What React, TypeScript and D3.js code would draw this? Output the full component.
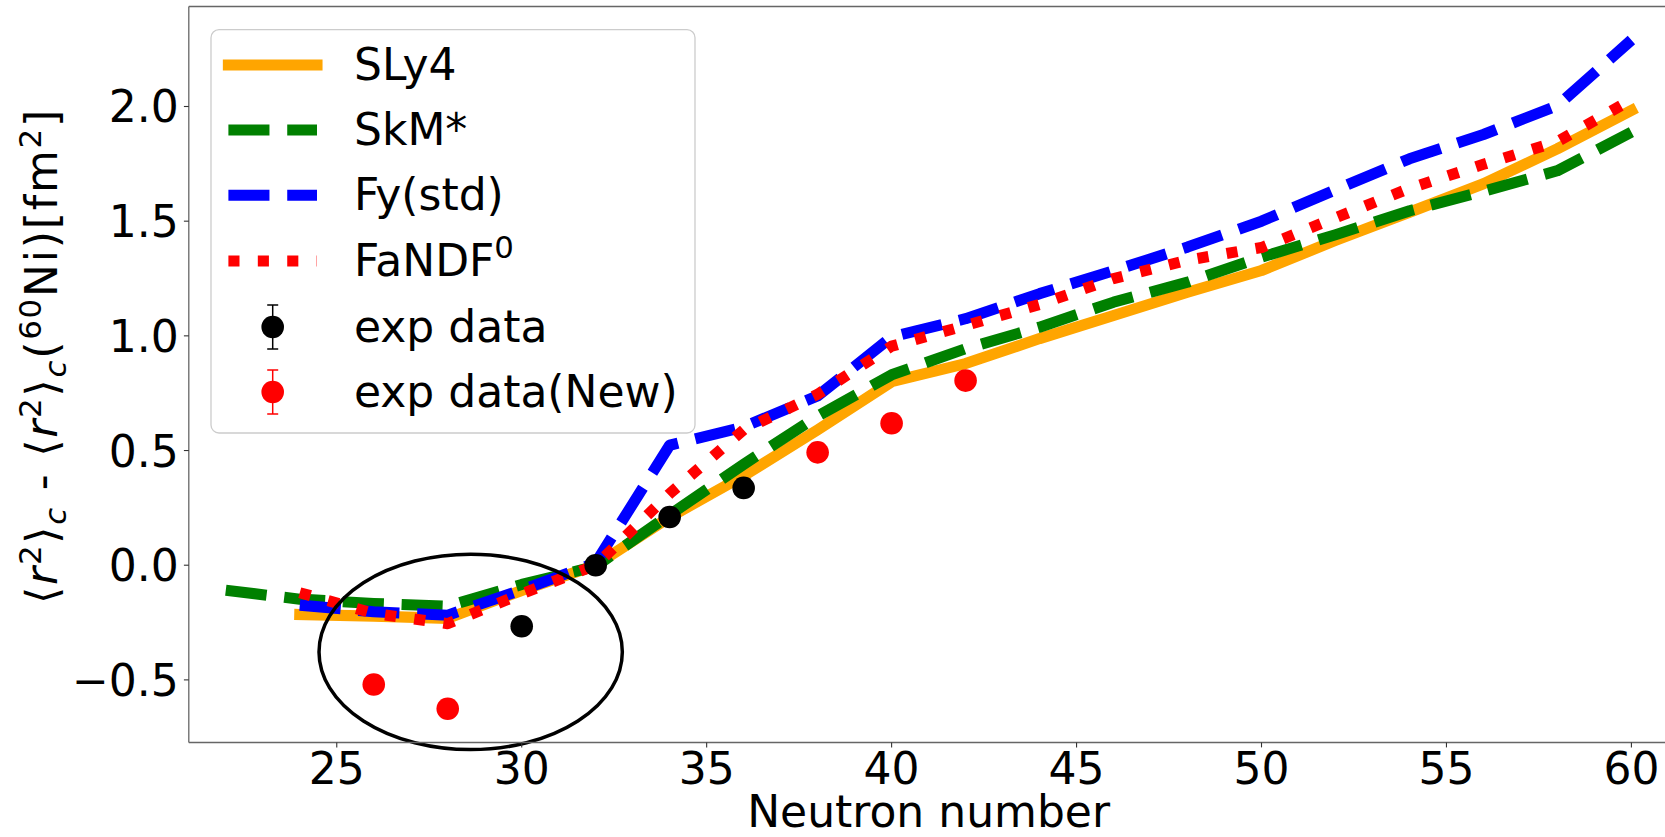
import * as d3 from "d3";

// neutron numbers
const nSkm = [22, 24, 26, 28, 30, 32, 34, 36, 38, 40, 42, 44, 46, 48, 50, 52, 54, 56, 58, 60];
const nCalc = [24, 26, 28, 30, 32, 34, 36, 38, 40, 42, 44, 46, 48, 50, 52, 54, 56, 58, 60];

// model curves
const sly4 = [-0.215, -0.222, -0.232, -0.11, 0.0, 0.21, 0.39, 0.59, 0.8, 0.879, 0.988, 1.089, 1.19, 1.285, 1.416, 1.539, 1.663, 1.816, 1.983];
const skm = [-0.109, -0.148, -0.167, -0.179, -0.084, -0.005, 0.22, 0.44, 0.65, 0.83, 0.944, 1.038, 1.147, 1.234, 1.343, 1.441, 1.545, 1.63, 1.72, 1.888];
const fyStd = [-0.174, -0.203, -0.218, -0.108, 0.01, 0.523, 0.603, 0.738, 0.995, 1.075, 1.184, 1.284, 1.387, 1.5, 1.637, 1.772, 1.878, 2.004, 2.29];
const fandf = [-0.12, -0.21, -0.255, -0.125, 0.0, 0.312, 0.59, 0.745, 0.955, 1.045, 1.137, 1.25, 1.33, 1.385, 1.515, 1.643, 1.748, 1.847, 2.03];

// experiment
const expN = [30, 32, 34, 36];
const expVal = [-0.266, 0.0, 0.21, 0.337];
const expNewN = [26, 28, 38, 40, 42];
const expNewVal = [-0.52, -0.626, 0.492, 0.619, 0.805];

const xTicks = [25, 30, 35, 40, 45, 50, 55, 60];
const yTicks = [-0.5, 0.0, 0.5, 1.0, 1.5, 2.0];

// highlighted region (center N, center value, width, height)
const ellipse = { cx: 28.62, cy: -0.378, w: 8.2, h: 0.852 };

const W = 1665;
const H = 837;
const FONT = "DejaVu Sans, sans-serif";
const FS = 44;
const LW = 11.1;

const series = [
  { name: "SLy4", n: nCalc, v: sly4, color: "#ffa500", dash: "", cap: "square" },
  { name: "SkM*", n: nSkm, v: skm, color: "#008000", dash: `${3.7 * LW},${1.6 * LW}`, cap: "butt" },
  { name: "Fy(std)", n: nCalc, v: fyStd, color: "#0000ff", dash: `${3.7 * LW},${1.6 * LW}`, cap: "butt" },
  { name: "FaNDF", n: nCalc, v: fandf, color: "#ff0000", dash: `${LW},${1.65 * LW}`, cap: "butt" },
];

export default function App() {
  const x = d3.scaleLinear().domain([21, 61]).range([188.8, 1668.4]);
  const y = d3.scaleLinear().domain([-0.773, 2.436]).range([742.5, 6.5]);
  const left = x.range()[0];
  const right = x.range()[1];
  const top = y.range()[1];
  const bottom = y.range()[0];

  const line = d3
    .line<[number, number]>()
    .x((d) => x(d[0]))
    .y((d) => y(d[1]));

  const legendRows = [65, 130, 195.3, 261, 327, 392];
  const hx0 = 228.4;
  const hx1 = 317;
  const hxm = (hx0 + hx1) / 2;
  const tx = 354;
  const ylx = 57;
  const yly = 356;

  return (
    <div style={{ position: "absolute", left: 0, top: 0 }}>
      <svg width={W} height={H} style={{ display: "block", background: "#fff" }} fontFamily={FONT}>
        {/* curves */}
        {series.map((s) => (
          <path
            key={s.name}
            d={line(s.n.map((n, i) => [n, s.v[i]]))!}
            fill="none"
            stroke={s.color}
            strokeWidth={LW}
            strokeDasharray={s.dash || undefined}
            strokeLinecap={s.cap as any}
            strokeLinejoin="round"
          />
        ))}

        {/* experimental points */}
        {expN.map((n, i) => (
          <circle key={"e" + n} cx={x(n)} cy={y(expVal[i])} r={11.3} fill="#000" />
        ))}
        {expNewN.map((n, i) => (
          <circle key={"r" + n} cx={x(n)} cy={y(expNewVal[i])} r={11.3} fill="#ff0000" />
        ))}

        {/* ellipse */}
        <ellipse
          cx={x(ellipse.cx)}
          cy={y(ellipse.cy)}
          rx={(x(ellipse.cx + ellipse.w / 2) - x(ellipse.cx - ellipse.w / 2)) / 2}
          ry={(y(ellipse.cy - ellipse.h / 2) - y(ellipse.cy + ellipse.h / 2)) / 2}
          fill="none"
          stroke="#000"
          strokeWidth={3.5}
        />

        {/* spines */}
        <g stroke="#666" strokeWidth={1.3} fill="none">
          <line x1={left} x2={left} y1={top} y2={bottom} />
          <line x1={left} x2={right} y1={top} y2={top} />
          <line x1={left} x2={right} y1={bottom} y2={bottom} />
          <line x1={right} x2={right} y1={top} y2={bottom} />
        </g>

        {/* x axis */}
        {xTicks.map((t) => (
          <g key={"xt" + t}>
            <line x1={x(t)} x2={x(t)} y1={bottom} y2={bottom + 4.9} stroke="#333" strokeWidth={1.1} />
            <text x={x(t)} y={784} textAnchor="middle" fontSize={FS} fill="#000">
              {t}
            </text>
          </g>
        ))}
        <text x={(left + right) / 2} y={827} textAnchor="middle" fontSize={FS} fill="#000">
          Neutron number
        </text>

        {/* y axis */}
        {yTicks.map((t) => (
          <g key={"yt" + t}>
            <line x1={left - 4.9} x2={left} y1={y(t)} y2={y(t)} stroke="#333" strokeWidth={1.1} />
            <text x={left - 10} y={y(t) + 16} textAnchor="end" fontSize={FS} fill="#000">
              {d3.format(".1f")(t).replace("-", "\u2212")}
            </text>
          </g>
        ))}
        <text
          x={ylx}
          y={yly}
          textAnchor="middle"
          fontSize={FS}
          fill="#000"
          letterSpacing={1.8}
          transform={`rotate(-90, ${ylx}, ${yly})`}
        >
          <tspan>{"\u27e8"}</tspan>
          <tspan fontStyle="italic">r</tspan>
          <tspan fontSize={FS * 0.7} dy={-16}>2</tspan>
          <tspan dy={16}>{"\u27e9"}</tspan>
          <tspan fontStyle="italic" fontSize={FS * 0.7} dy={9}>c</tspan>
          <tspan dy={-9}>{" - \u27e8"}</tspan>
          <tspan fontStyle="italic">r</tspan>
          <tspan fontSize={FS * 0.7} dy={-16}>2</tspan>
          <tspan dy={16}>{"\u27e9"}</tspan>
          <tspan fontStyle="italic" fontSize={FS * 0.7} dy={9}>c</tspan>
          <tspan dy={-9}>(</tspan>
          <tspan fontSize={FS * 0.7} dy={-16}>60</tspan>
          <tspan dy={16}>Ni)[fm</tspan>
          <tspan fontSize={FS * 0.7} dy={-16}>2</tspan>
          <tspan dy={16}>]</tspan>
        </text>

        {/* legend */}
        <rect x={211} y={29.7} width={484} height={403.3} rx={8} fill="#fff" fillOpacity={0.8} stroke="#ccc" strokeWidth={1.3} />
        {series.map((s, i) => (
          <g key={"lg" + s.name}>
            <line
              x1={hx0}
              x2={hx1}
              y1={legendRows[i]}
              y2={legendRows[i]}
              stroke={s.color}
              strokeWidth={LW}
              strokeDasharray={s.dash || undefined}
              strokeLinecap={s.cap as any}
            />
            <text x={tx} y={legendRows[i] + 15} fontSize={FS} fill="#000">
              {s.name}
              {s.name === "FaNDF" ? (
                <tspan fontSize={FS * 0.7} dy={-18}>
                  0
                </tspan>
              ) : null}
            </text>
          </g>
        ))}
        {[
          { label: "exp data", color: "#000" },
          { label: "exp data(New)", color: "#ff0000" },
        ].map((e, j) => {
          const cy = legendRows[4 + j];
          return (
            <g key={"le" + j}>
              <line x1={hxm} x2={hxm} y1={cy - 22} y2={cy + 22} stroke={e.color} strokeWidth={1.5} />
              <line x1={hxm - 5.5} x2={hxm + 5.5} y1={cy - 22} y2={cy - 22} stroke={e.color} strokeWidth={1.5} />
              <line x1={hxm - 5.5} x2={hxm + 5.5} y1={cy + 22} y2={cy + 22} stroke={e.color} strokeWidth={1.5} />
              <circle cx={hxm} cy={cy} r={11.3} fill={e.color} />
              <text x={tx} y={cy + 15} fontSize={FS} fill="#000">
                {e.label}
              </text>
            </g>
          );
        })}
      </svg>
    </div>
  );
}
